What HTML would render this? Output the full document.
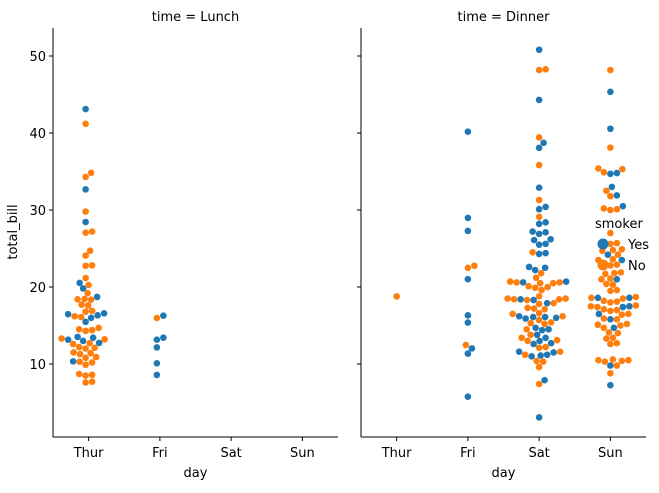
<!DOCTYPE html>
<html><head><meta charset="utf-8"><style>
body{margin:0;background:#fff;font-family:"Liberation Sans","DejaVu Sans",sans-serif}
svg text{font-family:"DejaVu Sans","Liberation Sans",sans-serif;font-size:13px;fill:#000}
</style></head><body>
<svg id="c" width="659" height="488"></svg>
<script>
const days=["Thur","Fri","Sat","Sun"];
const panels=["Lunch","Dinner"];
const yTicks=[10,20,30,40,50];
const lunchThurYes=[43.11,32.68,28.44,20.53,19.81,18.71,16.47,16.32,16.0,15.48,13.51,13.42,13.0,12.74,13.16,10.34,16.58];
const lunchThurNo=[41.19,34.83,34.3,29.8,27.2,27.05,24.71,24.08,22.82,22.76,21.16,20.27,19.2,18.35,18.4,18.45,17.7,17.6,16.9,16.8,16.1,16.2,14.7,14.4,14.3,14.5,13.2,13.3,12.7,12.6,12.1,12.0,12.2,11.4,11.3,11.5,10.9,10.8,10.3,10.2,9.9,8.7,8.6,8.5,7.7,7.6];
const lunchFriYes=[16.27,13.42,13.16,12.16,10.09,8.58];
const lunchFriNo=[15.98];
const dinnerThurYes=[];
const dinnerThurNo=[18.78];
const dinnerFriYes=[40.17,28.97,27.28,21.01,16.32,15.38,12.03,11.35,5.75];
const dinnerFriNo=[22.75,22.49,12.46];
const dinnerSatYes=[50.81,44.3,38.73,38.07,32.9,30.1,30.4,28.2,28.4,27.1,27.2,26.9,26.1,26.2,25.5,25.6,24.4,24.3,22.6,22.5,22.2,20.6,20.7,18.4,18.3,17.9,16.1,16.0,16.2,16.1,15.9,14.7,14.5,14.4,13.8,13.4,13.0,12.7,12.6,11.6,11.5,11.2,11.1,11.0,7.9,3.07];
const dinnerSatNo=[48.27,48.17,39.42,35.83,31.3,29.1,24.5,21.8,21.2,20.6,20.5,20.7,20.6,20.5,20.0,20.1,19.9,19.6,18.8,18.4,18.5,18.3,18.4,18.5,17.9,17.8,17.2,17.3,17.1,16.6,16.5,16.2,15.7,15.3,15.4,15.2,14.5,13.8,13.4,13.0,13.1,12.1,12.2,11.6,11.2,10.3,10.4,9.6,7.4];
const dinnerSunYes=[45.35,40.55,34.8,34.7,33.0,31.9,30.5,24.2,23.5,21.0,18.6,18.6,17.5,17.4,16.5,15.8,14.7,9.8,7.25];
const dinnerSunNo=[48.17,38.1,35.4,34.9,35.3,32.5,31.8,30.1,30.0,30.2,27.0,25.7,25.6,24.8,24.7,24.9,24.2,23.5,23.6,22.9,22.8,23.0,21.8,21.9,21.7,21.0,21.1,20.3,20.4,19.6,19.5,18.6,18.5,18.7,18.1,18.0,18.2,17.5,17.4,17.6,17.0,17.1,16.9,16.5,16.4,15.8,15.9,15.1,15.0,15.2,14.7,14.0,14.1,13.4,13.3,12.7,12.6,10.5,10.4,10.3,10.6,10.5,9.8,8.8];
const groups=[
 [[lunchThurYes,lunchThurNo],[lunchFriYes,lunchFriNo],[[],[]],[[],[]]],
 [[dinnerThurYes,dinnerThurNo],[dinnerFriYes,dinnerFriNo],[dinnerSatYes,dinnerSatNo],[dinnerSunYes,dinnerSunNo]]
];
const colors=["#1f77b4","#ff7f0e"];
const NS="http://www.w3.org/2000/svg";
const svg=document.getElementById("c");
function el(t,a,p){const e=document.createElementNS(NS,t);for(const k in a)e.setAttribute(k,a[k]);(p||svg).appendChild(e);return e;}
const axTop=28,axBot=437;
const yScale=v=>364-(v-10)*7.7;
const lefts=[53,361],W=285;
const R=3.3,D=6.5;
panels.forEach((p,pi)=>{
 const L=lefts[pi];
 const g=el("g",{});
 
 
 const t=el("text",{x:L+W/2,y:21,"text-anchor":"middle"},g);t.textContent="time = "+p;
 
 
 days.forEach((d,di)=>{
  const cx=L+W*(di+0.5)/4-(pi===0?3:0);
  let pts=[];
  groups[pi][di].forEach((arr,hi)=>arr.forEach(v=>pts.push({v,hi})));
  pts.sort((a,b)=>a.v-b.v);
  const placed=[];
  pts.forEach(pt=>{
   const py=yScale(pt.v);
   let best=0;
   for(let k=0;k<400;k++){
    const off=(k%2?1:-1)*Math.ceil(k/2)*0.5;
    if(placed.every(q=>(q.x-(cx+off))**2+(q.y-py)**2>=D*D)){best=off;break;}
   }
   placed.push({x:cx+best,y:py,hi:pt.hi});
  });
  placed.forEach(q=>{
   const c=el("circle",{cx:q.x,cy:q.y,r:R,fill:colors[q.hi]},g);
   
   
  });
  el("line",{x1:L+W*(di+0.5)/4,x2:L+W*(di+0.5)/4,y1:axBot,y2:axBot+4,stroke:"#000"},g);
  const tl=el("text",{x:L+W*(di+0.5)/4,y:457,"text-anchor":"middle"},g);tl.textContent=d;
  
  
 });
 el("line",{x1:L,x2:L,y1:axTop,y2:axBot,stroke:"#000"},g);
 el("line",{x1:L,x2:L+W,y1:axBot,y2:axBot,stroke:"#000"},g);
 yTicks.forEach(v=>{
  el("line",{x1:L-4,x2:L,y1:yScale(v),y2:yScale(v),stroke:"#000"},g);
  if(pi===0){const yt=el("text",{x:L-7,y:yScale(v)+5,"text-anchor":"end"},g);yt.textContent=v;
   
   }
 });
 const xl=el("text",{x:L+W/2,y:477,"text-anchor":"middle"},g);xl.textContent="day";
 
 
});
const yl=el("text",{x:17,y:232,"text-anchor":"middle",transform:"rotate(-90 17 232)"});yl.textContent="total_bill";


const lg=el("g",{});


const lt=el("text",{x:595,y:228},lg);lt.textContent="smoker";
[["Yes",244],["No",265]].forEach((e,i)=>{
 el("circle",{cx:603,cy:e[1],r:5.5,fill:colors[i]},lg);
 const t=el("text",{x:628,y:e[1]+5},lg);t.textContent=e[0];
 
 
});
</script>
</body></html>
